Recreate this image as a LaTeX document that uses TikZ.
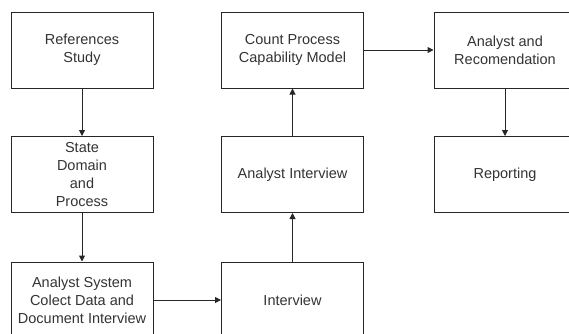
\documentclass[tikz,border=0pt]{standalone}
\usepackage{fontspec}
\setmainfont{Liberation Sans}
\usepackage{tikz}
\usetikzlibrary{arrows.meta}

\begin{document}
\begin{tikzpicture}[x=1pt,y=-1pt,
    stagebox/.style={draw=black!85, line width=1pt, minimum width=142pt, minimum height=76pt,
        inner sep=0pt, align=center, text=black!80, font=\fontsize{14.5}{18}\selectfont},
    flow/.style={draw=black!85, line width=1pt, -{Triangle[length=6pt,width=6pt]}}]
\clip (0,0) rectangle (569,333);
\node[stagebox] (refs) at (82,50) {References\\Study};
\node[stagebox] (domain) at (82,174.5) {State\\Domain\\and\\Process};
\node[stagebox] (collect) at (82,300) {Analyst System\\Colect Data and\\Document Interview};
\node[stagebox] (interview) at (292.5,300) {Interview};
\node[stagebox] (anint) at (292.5,174.5) {Analyst Interview};
\node[stagebox] (count) at (292.5,50) {Count Process\\Capability Model};
\node[stagebox] (recom) at (505,50) {Analyst and\\Recomendation};
\node[stagebox] (report) at (505,174.5) {Reporting};
\draw[flow] (refs) -- (domain);
\draw[flow] (domain) -- (collect);
\draw[flow] (collect) -- (interview);
\draw[flow] (interview) -- (anint);
\draw[flow] (anint) -- (count);
\draw[flow] (count) -- (recom);
\draw[flow] (recom) -- (report);
\end{tikzpicture}
\end{document}
